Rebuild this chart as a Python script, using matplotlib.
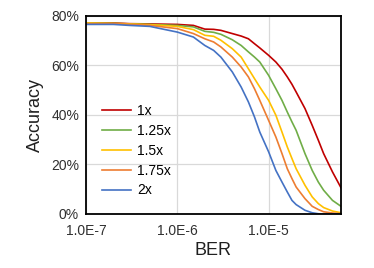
import matplotlib
matplotlib.use("Agg")
import matplotlib.pyplot as plt
from matplotlib.ticker import FixedLocator, FuncFormatter, NullLocator

plt.rcParams['font.family'] = ['Liberation Sans', 'DejaVu Sans']

ber = [1e-7, 2e-7, 3e-7, 5e-7, 1e-6, 1.5e-6, 2e-6, 2.5e-6, 3e-6, 4e-6, 5e-6, 6e-6,
       7e-6, 8e-6, 1e-5, 1.2e-5, 1.4e-5, 1.6e-5, 1.8e-5, 2e-5, 2.5e-5, 3e-5, 3.5e-5,
       4e-5, 5e-5, 6.2e-5]

acc_1x = [77.2, 77.2, 76.9, 76.8, 76.6, 76.2, 74.7, 74.6, 74.2, 72.9, 71.9, 70.8,
          68.8, 67.1, 64.1, 61.4, 58.5, 55.4, 52.4, 49.3, 42.6, 35.8, 29.8, 24.4, 17.0, 10.6]
acc_125x = [77.2, 77.0, 76.8, 76.6, 76.2, 75.6, 73.8, 73.4, 72.6, 70.4, 68.1, 65.5,
            63.4, 61.4, 56.0, 50.6, 45.9, 41.2, 37.2, 33.8, 24.4, 17.6, 12.9, 9.6, 5.5, 3.1]
acc_15x = [77.2, 77.0, 76.8, 76.5, 75.8, 74.5, 72.2, 71.8, 70.2, 66.8, 63.4, 58.7,
           54.7, 51.3, 45.9, 39.9, 33.1, 27.1, 22.4, 18.3, 11.6, 6.9, 4.2, 2.6, 1.2, 0.5]
acc_175x = [76.9, 76.9, 76.6, 76.2, 74.9, 72.9, 70.8, 69.5, 67.5, 63.4, 59.4, 55.4,
            50.6, 45.9, 37.8, 31.1, 24.4, 18.3, 14.3, 10.9, 6.2, 3.1, 1.8, 0.9, 0.4, 0.1]
acc_2x = [76.6, 76.6, 76.2, 75.8, 73.5, 71.5, 68.1, 66.1, 63.4, 57.4, 51.3, 45.3,
          39.2, 33.1, 25.1, 17.6, 12.9, 8.9, 5.5, 3.8, 1.5, 0.5, 0.1, 0.0, 0.0, 0.0]

labels = ["1x", "1.25x", "1.5x", "1.75x", "2x"]
series = [acc_1x, acc_125x, acc_15x, acc_175x, acc_2x]
colors = ["#C00000", "#70AD47", "#FFC000", "#ED7D31", "#4472C4"]

x_ticks = [1e-7, 1e-6, 1e-5]
x_ticklabels = ["1.0E-7", "1.0E-6", "1.0E-5"]
y_ticks = [0, 20, 40, 60, 80]

fig = plt.figure(figsize=(3.74, 2.68), dpi=100)
ax = fig.add_axes([0.2299, 0.2015, 0.6819, 0.7388])

for lab, vals, c in zip(labels, series, colors):
    ax.plot(ber, vals, color=c, lw=1.2, label=lab, solid_joinstyle='miter')

ax.set_xscale('log')
ax.set_xlim(1e-7, 6.2e-5)
ax.set_ylim(0, 80)
ax.xaxis.set_major_locator(FixedLocator(x_ticks))
ax.xaxis.set_minor_locator(NullLocator())
ax.set_xticklabels(x_ticklabels)
ax.set_yticks(y_ticks)
ax.yaxis.set_major_formatter(FuncFormatter(lambda v, p: f"{int(v)}%"))
ax.tick_params(axis='both', length=0, labelsize=10, colors='#303030', pad=5)
ax.tick_params(axis='x', pad=7)

ax.grid(True, color='#D9D9D9', lw=0.9)
ax.set_axisbelow(True)
for s in ax.spines.values():
    s.set_color('black')
    s.set_linewidth(1.3)

ax.set_xlabel("BER", fontsize=13, color='#202020', labelpad=3)
ax.set_ylabel("Accuracy", fontsize=13, color='#202020', labelpad=5)

leg = ax.legend(loc='upper left', bbox_to_anchor=(0.063, 0.555), frameon=False,
                fontsize=10, handlelength=2.1, handletextpad=0.4, labelspacing=0.42,
                borderaxespad=0, borderpad=0)

fig.savefig("out.png", dpi=100)
